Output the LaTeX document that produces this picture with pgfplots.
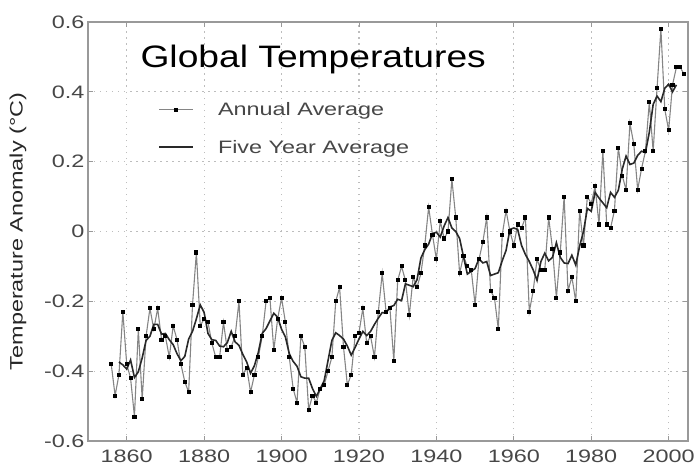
\documentclass[border=0pt]{standalone}
\usepackage{fontspec}
\setmainfont{Liberation Sans}[FakeStretch=1.3]
\newfontfamily\titlefont{Liberation Sans}[FakeStretch=1.2]
\usepackage{pgfplots}
\pgfplotsset{compat=1.18}
\usepackage{pgfplotstable}

\definecolor{framegray}{gray}{0.6}
\definecolor{gridgray}{gray}{0.74}
\definecolor{annualgray}{gray}{0.52}
\definecolor{smoothgray}{gray}{0.16}
\definecolor{labelgray}{gray}{0.28}

% Annual global temperature anomaly (deg C)
\pgfplotstableread{
year anomaly
1856 -0.38
1857 -0.47
1858 -0.41
1859 -0.23
1860 -0.38
1861 -0.42
1862 -0.53
1863 -0.28
1864 -0.48
1865 -0.30
1866 -0.22
1867 -0.28
1868 -0.22
1869 -0.31
1870 -0.30
1871 -0.36
1872 -0.27
1873 -0.31
1874 -0.38
1875 -0.43
1876 -0.46
1877 -0.21
1878 -0.06
1879 -0.27
1880 -0.25
1881 -0.26
1882 -0.32
1883 -0.36
1884 -0.36
1885 -0.26
1886 -0.34
1887 -0.33
1888 -0.30
1889 -0.20
1890 -0.41
1891 -0.39
1892 -0.46
1893 -0.41
1894 -0.36
1895 -0.30
1896 -0.20
1897 -0.19
1898 -0.34
1899 -0.25
1900 -0.19
1901 -0.26
1902 -0.36
1903 -0.45
1904 -0.49
1905 -0.30
1906 -0.33
1907 -0.51
1908 -0.47
1909 -0.49
1910 -0.45
1911 -0.44
1912 -0.40
1913 -0.36
1914 -0.20
1915 -0.16
1916 -0.33
1917 -0.44
1918 -0.41
1919 -0.30
1920 -0.29
1921 -0.22
1922 -0.32
1923 -0.30
1924 -0.36
1925 -0.23
1926 -0.12
1927 -0.23
1928 -0.22
1929 -0.37
1930 -0.14
1931 -0.10
1932 -0.14
1933 -0.24
1934 -0.13
1935 -0.16
1936 -0.12
1937 -0.04
1938 0.07
1939 -0.01
1940 -0.08
1941 0.03
1942 -0.02
1943 0.00
1944 0.15
1945 0.04
1946 -0.12
1947 -0.07
1948 -0.10
1949 -0.11
1950 -0.21
1951 -0.08
1952 -0.03
1953 0.04
1954 -0.17
1955 -0.19
1956 -0.28
1957 -0.01
1958 0.06
1959 0.00
1960 -0.04
1961 0.02
1962 0.01
1963 0.04
1964 -0.23
1965 -0.17
1966 -0.08
1967 -0.11
1968 -0.11
1969 0.04
1970 -0.05
1971 -0.19
1972 -0.06
1973 0.10
1974 -0.17
1975 -0.13
1976 -0.20
1977 0.06
1978 -0.04
1979 0.10
1980 0.08
1981 0.13
1982 0.02
1983 0.23
1984 0.02
1985 0.01
1986 0.06
1987 0.24
1988 0.16
1989 0.12
1990 0.31
1991 0.25
1992 0.12
1993 0.18
1994 0.23
1995 0.37
1996 0.23
1997 0.41
1998 0.58
1999 0.35
2000 0.29
2001 0.42
2002 0.47
2003 0.47
2004 0.45
}\annualdata

% Centred five-year running mean of the annual series
\pgfplotstableread{
year anomaly
1858 -0.374
1859 -0.382
1860 -0.394
1861 -0.368
1862 -0.418
1863 -0.402
1864 -0.362
1865 -0.312
1866 -0.300
1867 -0.266
1868 -0.266
1869 -0.294
1870 -0.292
1871 -0.310
1872 -0.324
1873 -0.350
1874 -0.370
1875 -0.358
1876 -0.308
1877 -0.286
1878 -0.250
1879 -0.210
1880 -0.232
1881 -0.292
1882 -0.310
1883 -0.312
1884 -0.328
1885 -0.330
1886 -0.318
1887 -0.286
1888 -0.316
1889 -0.326
1890 -0.352
1891 -0.374
1892 -0.406
1893 -0.384
1894 -0.346
1895 -0.292
1896 -0.278
1897 -0.256
1898 -0.234
1899 -0.246
1900 -0.280
1901 -0.302
1902 -0.350
1903 -0.372
1904 -0.386
1905 -0.416
1906 -0.420
1907 -0.420
1908 -0.450
1909 -0.472
1910 -0.450
1911 -0.428
1912 -0.370
1913 -0.312
1914 -0.290
1915 -0.298
1916 -0.308
1917 -0.328
1918 -0.354
1919 -0.332
1920 -0.308
1921 -0.286
1922 -0.298
1923 -0.286
1924 -0.266
1925 -0.248
1926 -0.232
1927 -0.234
1928 -0.216
1929 -0.212
1930 -0.194
1931 -0.198
1932 -0.150
1933 -0.154
1934 -0.158
1935 -0.138
1936 -0.076
1937 -0.052
1938 -0.036
1939 -0.006
1940 -0.002
1941 -0.016
1942 0.016
1943 0.040
1944 0.010
1945 0.000
1946 -0.020
1947 -0.072
1948 -0.122
1949 -0.114
1950 -0.106
1951 -0.078
1952 -0.090
1953 -0.086
1954 -0.126
1955 -0.122
1956 -0.118
1957 -0.084
1958 -0.054
1959 0.006
1960 0.010
1961 0.006
1962 -0.040
1963 -0.066
1964 -0.086
1965 -0.110
1966 -0.140
1967 -0.086
1968 -0.062
1969 -0.084
1970 -0.074
1971 -0.032
1972 -0.074
1973 -0.090
1974 -0.092
1975 -0.068
1976 -0.096
1977 -0.042
1978 0.000
1979 0.066
1980 0.058
1981 0.112
1982 0.096
1983 0.082
1984 0.068
1985 0.112
1986 0.098
1987 0.118
1988 0.178
1989 0.216
1990 0.192
1991 0.196
1992 0.218
1993 0.230
1994 0.226
1995 0.284
1996 0.364
1997 0.388
1998 0.372
1999 0.410
2000 0.422
2001 0.400
2002 0.420
}\fivedata

\begin{document}
\begin{tikzpicture}
\begin{axis}[
  scale only axis,
  width=600pt, height=419pt,
  xmin=1850, xmax=2005,
  ymin=-0.6, ymax=0.6,
  xtick={1860,1880,1900,1920,1940,1960,1980,2000},
  xticklabels={1860,1880,1900,1920,1940,1960,1980,2000},
  ytick={-0.6,-0.4,-0.2,0,0.2,0.4,0.6},
  yticklabels={-0.6,-0.4,-0.2,0,0.2,0.4,0.6},
  tick label style={font=\fontsize{18}{20}\selectfont, text=labelgray},
  xticklabel style={yshift=-5pt},
  axis line style={framegray, line width=1.6pt},
  major tick style={framegray, line width=0.8pt},
  major tick length=5pt,
  xmajorgrids=true, ymajorgrids=true,
  every major grid/.style={draw=gridgray, line width=1.2pt,
    dash pattern=on 1.5pt off 4.5pt},
  ylabel={Temperature Anomaly (°C)},
  every axis y label/.style={at={(rel axis cs:0,0.5)}, xshift=-70pt,
    rotate=90, anchor=center, font=\fontsize{18}{20}\selectfont, text=black!85},
  legend style={
    at={(rel axis cs:0.112,0.818)}, anchor=north west,
    draw=none, fill=none,
    font=\fontsize{18}{20}\selectfont, text=labelgray,
    row sep=19pt,
    /tikz/every odd column/.append style={column sep=22pt},
  },
  legend cell align=left,
  legend image code/.code={%
    \draw[mark repeat=2, mark phase=2, #1]
      plot coordinates {(0pt,0pt) (17pt,0pt) (34pt,0pt)};},
]
\addplot[annualgray, line width=1.1pt, mark=square*, mark size=1.5pt,
  mark options={black, fill=black, solid}] table[x=year, y=anomaly] {\annualdata};
\addlegendentry{Annual Average}
\addplot[smoothgray, line width=1.6pt] table[x=year, y=anomaly] {\fivedata};
\addlegendentry{Five Year Average}
\node[anchor=base west, font=\titlefont\fontsize{31}{36}\selectfont]
  at (rel axis cs:0.0817,0.8926) {Global Temperatures};
\end{axis}
\pgfresetboundingbox
\path ([xshift=-88pt,yshift=-26pt]current axis.south west)
  rectangle ([xshift=7pt,yshift=22pt]current axis.north east);
\end{tikzpicture}
\end{document}
